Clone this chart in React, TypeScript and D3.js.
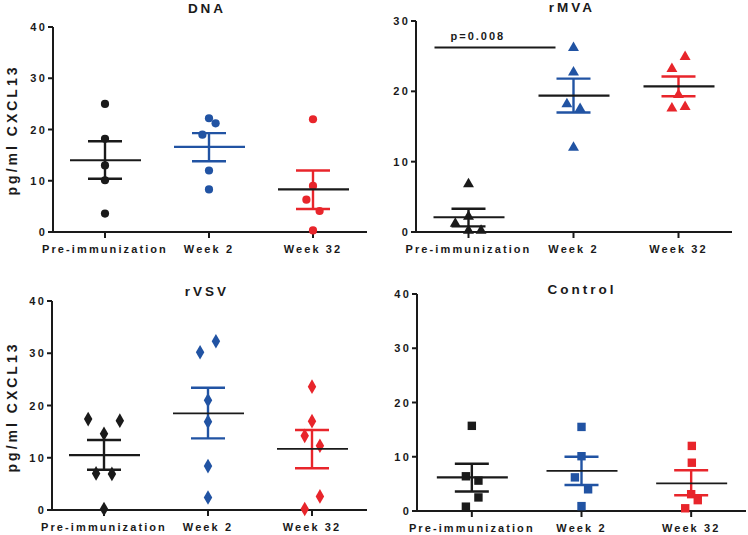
import React from "react";
import * as d3 from "d3";

const groups = ["Pre-immunization", "Week 2", "Week 32"];
const groupColors = ["#1a1a1a", "#2153a3", "#e8252b"];

// values per group: [value, jitterSlot]
const dnaPre = [[25, 0], [18.2, 0], [13, 0], [10.1, 0], [3.6, 0]];
const dnaWk2 = [[22.2, 0], [21.2, 1], [19, -1], [12, 0], [8.3, 0]];
const dnaWk32 = [[22, 0], [9, 0], [6.3, -1], [4.1, 1], [0.3, 0]];
const dnaMean = [14, 16.6, 8.3];
const dnaSem = [[10.4, 17.7], [13.8, 19.3], [4.5, 12.0]];

const mvaPre = [[6.8, 0], [2.2, 0], [1.2, -2], [0.2, 0], [0.2, 1.9]];
const mvaWk2 = [[26.2, 0], [22.7, 0], [18.2, -1], [17.5, 1], [12, 0]];
const mvaWk32 = [[24.9, 1], [23.2, -1], [19.5, 0], [17.6, -1], [17.8, 1]];
const mvaMean = [2.1, 19.4, 20.7];
const mvaSem = [[0.8, 3.3], [17.0, 21.8], [19.3, 22.1]];

const vsvPre = [[17.4, -2.4], [17.1, 2.4], [14.6, 0], [7.0, -1.2], [6.9, 1.2], [0.2, 0]];
const vsvWk2 = [[32.3, 1.2], [30.2, -1.2], [21.0, 0], [16.9, 0], [8.4, 0], [2.4, 0]];
const vsvWk32 = [[23.6, 0], [17.0, 0], [14.2, -1.1], [12.3, 1.2], [2.6, 1.2], [0.2, -1.1]];
const vsvMean = [10.5, 18.5, 11.7];
const vsvSem = [[7.7, 13.4], [13.7, 23.4], [8.0, 15.3]];

const ctlPre = [[15.7, 0], [6.4, -0.9], [5.6, 1], [2.5, 1], [0.8, -0.9]];
const ctlWk2 = [[15.5, 0], [10.1, 0], [6.2, -1], [4.0, 1], [0.9, 0]];
const ctlWk32 = [[12.0, 0.1], [8.9, 0.1], [3.1, 0], [2.0, 1], [0.5, -0.9]];
const ctlMean = [6.2, 7.4, 5.1];
const ctlSem = [[3.6, 8.7], [4.8, 10.0], [2.9, 7.5]];

const ticks40 = [0, 10, 20, 30, 40];
const ticks30 = [0, 10, 20, 30];

const yLabel = "pg/ml CXCL13";
const pLabel = "p=0.008";
const pLevel = 26.25;

type Panel = {
  title: string;
  data: number[][][];
  mean: number[];
  sem: number[][];
  ticks: number[];
  shape: string;
  meanColors: string[];
  meanWidths: number[];
  x0: number; x1: number; ax1: number; yTop: number; yBot: number;
  titleX: number; titleY: number; showYLabel: boolean; ylabY: number;
  sig?: boolean;
};

const panels: Panel[] = [
  {
    title: "DNA", data: [dnaPre, dnaWk2, dnaWk32], mean: dnaMean, sem: dnaSem, ticks: ticks40,
    shape: "circle", meanColors: ["#1a1a1a", "#2153a3", "#1a1a1a"], meanWidths: [2.2, 2.2, 2.2],
    x0: 53, x1: 365, ax1: 367, yTop: 27, yBot: 232, titleX: 207, titleY: 13, showYLabel: true, ylabY: 130,
  },
  {
    title: "rMVA", data: [mvaPre, mvaWk2, mvaWk32], mean: mvaMean, sem: mvaSem, ticks: ticks30,
    shape: "triangle", meanColors: ["#1a1a1a", "#1a1a1a", "#1a1a1a"], meanWidths: [2.2, 2.2, 2.2],
    x0: 416, x1: 731, ax1: 732, yTop: 21, yBot: 232, titleX: 572, titleY: 12, showYLabel: false, ylabY: 130, sig: true,
  },
  {
    title: "rVSV", data: [vsvPre, vsvWk2, vsvWk32], mean: vsvMean, sem: vsvSem, ticks: ticks40,
    shape: "diamond", meanColors: ["#1a1a1a", "#1a1a1a", "#1a1a1a"], meanWidths: [2.2, 1.6, 1.6],
    x0: 52, x1: 364, ax1: 367, yTop: 301, yBot: 510, titleX: 207, titleY: 296, showYLabel: true, ylabY: 407,
  },
  {
    title: "Control", data: [ctlPre, ctlWk2, ctlWk32], mean: ctlMean, sem: ctlSem, ticks: ticks40,
    shape: "square", meanColors: ["#1a1a1a", "#1a1a1a", "#1a1a1a"], meanWidths: [2.2, 1.6, 1.6],
    x0: 417, x1: 746, ax1: 746, yTop: 294, yBot: 511, titleX: 582, titleY: 294, showYLabel: false, ylabY: 407,
  },
];

const FONT = "'Liberation Sans', Arial, sans-serif";
const JIT = 6.6;

function marker(shape: string, cx: number, cy: number, color: string, key: string) {
  if (shape === "circle") return <circle key={key} cx={cx} cy={cy} r={4.1} fill={color} />;
  if (shape === "square") return <rect key={key} x={cx - 4.2} y={cy - 4.2} width={8.4} height={8.4} fill={color} />;
  const sym = shape === "triangle" ? d3.symbolTriangle : d3.symbolDiamond;
  const size = shape === "triangle" ? 52 : 62;
  const p = d3.symbol().type(sym).size(size)() as string;
  return <path key={key} d={p} transform={`translate(${cx},${cy})`} fill={color} />;
}

function PanelView({ p }: { p: Panel }) {
  const ymax = p.ticks[p.ticks.length - 1];
  const y = d3.scaleLinear().domain([0, ymax]).range([p.yBot, p.yTop]);
  const x = d3.scalePoint<string>().domain(groups).range([p.x0, p.x1]).padding(0.5);
  const axisColor = "#1a1a1a";
  return (
    <g>
      <text x={p.titleX} y={p.titleY} textAnchor="middle" fontFamily={FONT} fontWeight="bold" fontSize={13.5} letterSpacing={3} fill="#1a1a1a">{p.title}</text>
      {p.showYLabel && (
        <text transform={`translate(12,${p.ylabY}) rotate(-90)`} textAnchor="middle" dominantBaseline="central" fontFamily={FONT} fontWeight="bold" fontSize={14} letterSpacing={3} fill="#1a1a1a">{yLabel}</text>
      )}
      <line x1={p.x0} x2={p.x0} y1={y(ymax)} y2={p.yBot + 1} stroke={axisColor} strokeWidth={2} />
      <line x1={p.x0 - 1} x2={p.ax1} y1={p.yBot} y2={p.yBot} stroke={axisColor} strokeWidth={2} />
      {p.ticks.map((t) => (
        <g key={t}>
          <line x1={p.x0 - 5} x2={p.x0} y1={y(t)} y2={y(t)} stroke={axisColor} strokeWidth={2} />
          <text x={p.x0 - 6} y={y(t)} textAnchor="end" dominantBaseline="central" fontFamily={FONT} fontWeight="bold" fontSize={11} letterSpacing={2.2} fill="#1a1a1a">{t}</text>
        </g>
      ))}
      {groups.map((g, i) => {
        const cx = x(g) as number;
        const col = groupColors[i];
        return (
          <g key={g}>
            <line x1={cx} x2={cx} y1={p.yBot} y2={p.yBot + 6} stroke={axisColor} strokeWidth={2} />
            <text x={cx} y={p.yBot + 21} textAnchor="middle" fontFamily={FONT} fontWeight="bold" fontSize={11} letterSpacing={2.1} fill="#1a1a1a">{g}</text>
            {p.data[i].map((d, j) => marker(p.shape, cx + d[1] * JIT, y(d[0]), col, `${g}-${j}`))}
            <line x1={cx} x2={cx} y1={y(p.sem[i][0])} y2={y(p.sem[i][1])} stroke={col} strokeWidth={2.4} />
            <line x1={cx - 17} x2={cx + 17} y1={y(p.sem[i][0])} y2={y(p.sem[i][0])} stroke={col} strokeWidth={2.4} />
            <line x1={cx - 17} x2={cx + 17} y1={y(p.sem[i][1])} y2={y(p.sem[i][1])} stroke={col} strokeWidth={2.4} />
            <line x1={cx - 35} x2={cx + 36} y1={y(p.mean[i])} y2={y(p.mean[i])} stroke={p.meanColors[i]} strokeWidth={p.meanWidths[i]} />
          </g>
        );
      })}
      {p.sig && (
        <g>
          <line x1={(x(groups[0]) as number) - 34} x2={(x(groups[1]) as number) - 18} y1={y(pLevel)} y2={y(pLevel)} stroke="#1a1a1a" strokeWidth={2} />
          <text x={(x(groups[0]) as number) - 18} y={y(pLevel) - 7} fontFamily={FONT} fontWeight="bold" fontSize={11} letterSpacing={2} fill="#1a1a1a">{pLabel}</text>
        </g>
      )}
    </g>
  );
}

export default function App() {
  return (
    <svg width={748} height={535} style={{ position: "absolute", left: 0, top: 0, background: "#fff" }}>
      <rect width={748} height={535} fill="#fff" />
      {panels.map((p) => <PanelView key={p.title} p={p} />)}
    </svg>
  );
}
